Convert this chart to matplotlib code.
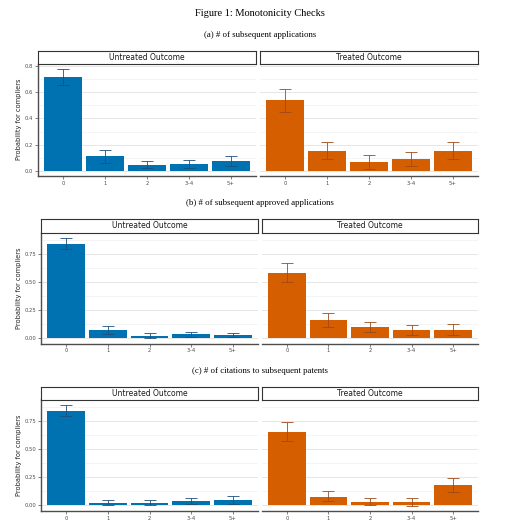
import matplotlib
matplotlib.use("Agg")
import matplotlib.pyplot as plt
import numpy as np

categories = ["0", "1", "2", "3–4", "5+"]

a_untreated = [0.716, 0.113, 0.046, 0.051, 0.074]
a_untreated_lo = [0.652, 0.060, 0.020, 0.020, 0.035]
a_untreated_hi = [0.780, 0.159, 0.074, 0.082, 0.115]
a_treated = [0.537, 0.153, 0.064, 0.092, 0.153]
a_treated_lo = [0.452, 0.090, 0.018, 0.038, 0.090]
a_treated_hi = [0.627, 0.222, 0.120, 0.143, 0.222]

b_untreated = [0.844, 0.071, 0.020, 0.035, 0.027]
b_untreated_lo = [0.797, 0.035, -0.003, 0.012, 0.007]
b_untreated_hi = [0.900, 0.112, 0.044, 0.059, 0.047]
b_treated = [0.585, 0.162, 0.097, 0.073, 0.073]
b_treated_lo = [0.499, 0.097, 0.053, 0.032, 0.029]
b_treated_hi = [0.673, 0.227, 0.144, 0.118, 0.129]

c_untreated = [0.845, 0.021, 0.021, 0.038, 0.044]
c_untreated_lo = [0.795, 0.000, 0.000, 0.010, 0.010]
c_untreated_hi = [0.899, 0.050, 0.047, 0.068, 0.080]
c_treated = [0.658, 0.074, 0.030, 0.030, 0.178]
c_treated_lo = [0.578, 0.036, 0.003, -0.006, 0.118]
c_treated_hi = [0.741, 0.125, 0.068, 0.068, 0.243]

fig_title = "Figure 1: Monotonicity Checks"
subtitles = ["(a) # of subsequent applications",
             "(b) # of subsequent approved applications",
             "(c) # of citations to subsequent patents"]
facet_labels = ["Untreated Outcome", "Treated Outcome"]
ylabel = "Probability for compliers"

blue = "#0072B2"
orange = "#D55E00"
blue_err = "#1F4E79"
orange_err = "#9C4A1A"

W = 520
fig = plt.figure(figsize=(5.2, 5.2), dpi=100)
fig.patch.set_facecolor("white")

def rect(x0, y0, x1, y1):
    return [x0 / W, 1 - y1 / W, (x1 - x0) / W, (y1 - y0) / W]

serif = ["Liberation Serif", "DejaVu Serif"]
fig.text(260 / W, 1 - 13 / W, fig_title, ha="center", va="center",
         fontsize=7.5, family=serif)

panels = [
    dict(sub_y=35, strip=(51, 63.5), ax=(63.5, 176), lx=(38, 256), rx=(260, 478),
         data=[(a_untreated, a_untreated_lo, a_untreated_hi),
               (a_treated, a_treated_lo, a_treated_hi)],
         major=[0, 0.2, 0.4, 0.6, 0.8], fmt="{:.1f}"),
    dict(sub_y=203, strip=(219, 232.5), ax=(232.5, 343.5), lx=(41, 258), rx=(262, 478),
         data=[(b_untreated, b_untreated_lo, b_untreated_hi),
               (b_treated, b_treated_lo, b_treated_hi)],
         major=[0, 0.25, 0.5, 0.75], fmt="{:.2f}"),
    dict(sub_y=371, strip=(387, 399.5), ax=(399.5, 511), lx=(41, 258), rx=(262, 478),
         data=[(c_untreated, c_untreated_lo, c_untreated_hi),
               (c_treated, c_treated_lo, c_treated_hi)],
         major=[0, 0.25, 0.5, 0.75], fmt="{:.2f}"),
]

x = np.arange(len(categories))
for pi, p in enumerate(panels):
    fig.text(260 / W, 1 - p["sub_y"] / W, subtitles[pi], ha="center", va="center",
             fontsize=6.3, family=serif)
    allv = []
    for vals, lo, hi in p["data"]:
        allv += list(vals) + list(lo) + list(hi) + [0]
    ymin, ymax = min(allv), max(allv)
    pad = 0.05 * (ymax - ymin)
    ylim = (ymin - pad, ymax + pad)
    step = p["major"][1] - p["major"][0]
    minor = [m + step / 2 for m in [-step] + p["major"]]
    for si, (xr, col, ecol) in enumerate([(p["lx"], blue, blue_err), (p["rx"], orange, orange_err)]):
        vals, lo, hi = p["data"][si]
        vals = np.array(vals); lo = np.array(lo); hi = np.array(hi)
        ax = fig.add_axes(rect(xr[0], p["ax"][0], xr[1], p["ax"][1]))
        ax.set_facecolor("white")
        for g in minor:
            if ylim[0] < g < ylim[1]:
                ax.axhline(g, color="#F0F0F0", lw=0.5, zorder=0)
        for g in p["major"]:
            ax.axhline(g, color="#E6E6E6", lw=0.7, zorder=0)
        ax.bar(x, vals, width=0.9, color=col, zorder=2)
        ax.errorbar(x, vals, yerr=[vals - lo, hi - vals], fmt="none", ecolor=ecol,
                    elinewidth=0.6, capsize=4.2, capthick=0.6, zorder=3)
        ax.set_xlim(-0.6, len(categories) - 0.4)
        ax.set_ylim(*ylim)
        ax.set_xticks(x)
        ax.set_xticklabels(categories, fontsize=3.8, color="#4D4D4D")
        ax.tick_params(axis="x", length=2, width=0.5, color="#4D4D4D", pad=1.5)
        for s in ["top", "right"]:
            ax.spines[s].set_visible(False)
        ax.spines["bottom"].set_color("#4D4D4D")
        ax.spines["bottom"].set_linewidth(1.0)
        if si == 0:
            ax.spines["left"].set_color("#4D4D4D")
            ax.spines["left"].set_linewidth(1.0)
            ax.set_yticks(p["major"])
            ax.set_yticklabels([p["fmt"].format(v) for v in p["major"]],
                               fontsize=3.8, color="#4D4D4D")
            ax.tick_params(axis="y", length=2, width=0.5, color="#4D4D4D", pad=1.5)
            ax.set_ylabel(ylabel, fontsize=4.8, labelpad=2, color="#222222")
        else:
            ax.spines["left"].set_visible(False)
            ax.set_yticks([])
        sax = fig.add_axes(rect(xr[0], p["strip"][0], xr[1], p["strip"][1]))
        sax.set_xticks([]); sax.set_yticks([])
        sax.set_facecolor("white")
        for s in sax.spines.values():
            s.set_color("#333333"); s.set_linewidth(0.8)
        sax.text(0.5, 0.5, facet_labels[si], ha="center", va="center",
                 fontsize=5.5, color="#1A1A1A", transform=sax.transAxes)

fig.savefig("out.png", dpi=100, facecolor="white")
